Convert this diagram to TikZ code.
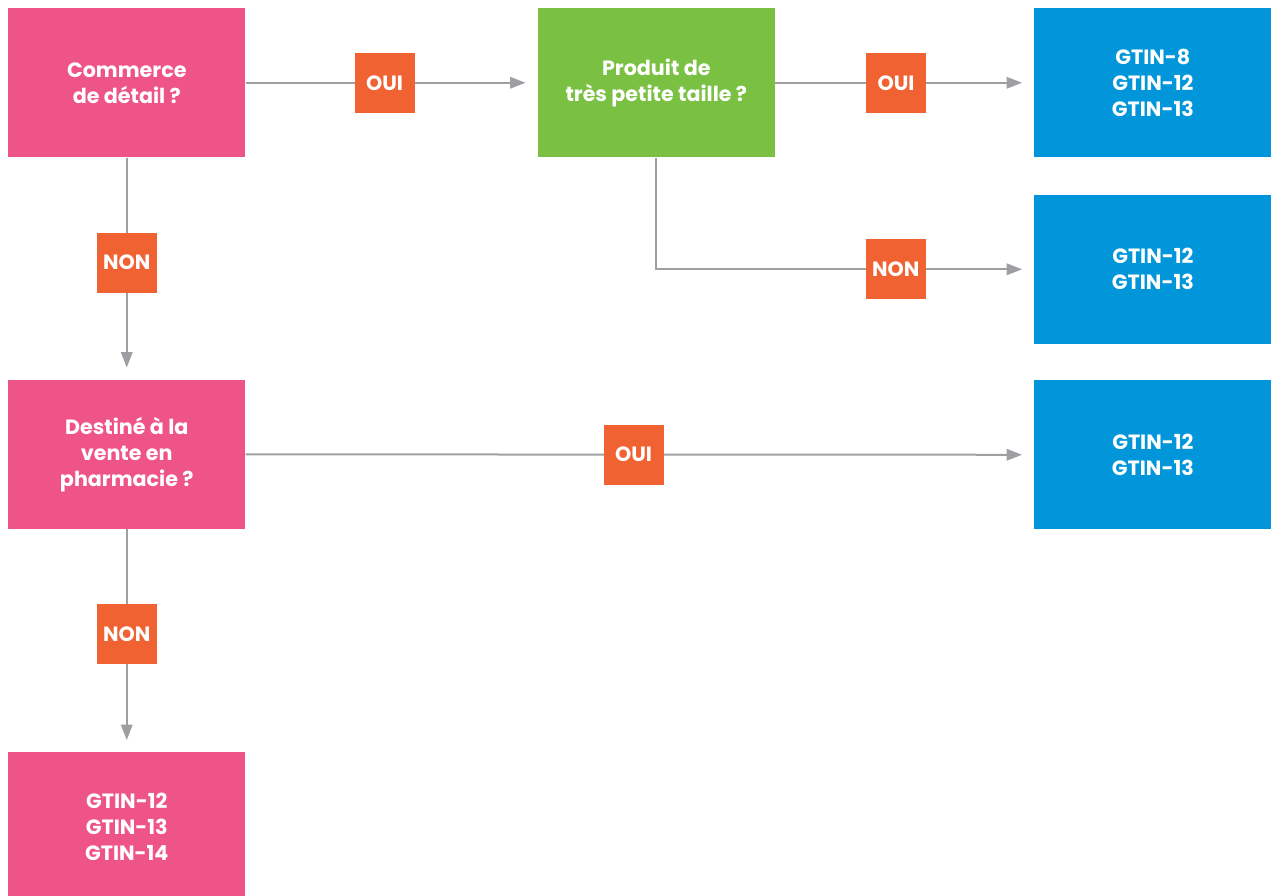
\documentclass[tikz,border=0pt]{standalone}
\usepackage{fontspec}
\setmainfont{Poppins}
\usetikzlibrary{positioning,arrows.meta}
\definecolor{rose}{HTML}{EF5489}
\definecolor{vert}{HTML}{7AC143}
\definecolor{bleu}{HTML}{0096D9}
\definecolor{orangelab}{HTML}{F16232}
\definecolor{gris}{HTML}{9D9FA2}
\begin{document}
\begin{tikzpicture}
                [box/.style={rectangle,minimum width=177.75pt,minimum height=111.75pt,inner sep=0pt,
                  align=center,text=white,font=\bfseries\fontsize{15.5}{19.5}\selectfont},
                pinkbox/.style={box,fill=rose},
                greenbox/.style={box,fill=vert},
                bluebox/.style={box,fill=bleu},
                lab/.style={rectangle,fill=orangelab,text=white,minimum size=45pt,inner sep=0pt,
                  font=\bfseries\fontsize{15.5}{19.5}\selectfont},
                fl/.style={draw=gris,line width=1.5pt,-{Triangle[length=11.5pt,width=8.5pt,fill=gris]},shorten >=9pt},
                node distance=166.5pt]
                \useasboundingbox (0,0) rectangle (953.25pt,-672pt);
                \node[pinkbox,anchor=north west] (detail) at (6pt,-6pt) {Commerce\\de détail ?};
                \node[greenbox,node distance=219pt] (taille)[right=of detail]{Produit de\\très petite taille ?};
                \node[bluebox,node distance=194.25pt] (gtinA)[right=of taille]{GTIN-8\\GTIN-12\\GTIN-13};
                \node[bluebox,node distance=27.75pt] (gtinB)[below=of gtinA]{GTIN-12\\GTIN-13};
                \node[pinkbox] (pharma)[below=of detail]{Destiné à la\\vente en\\pharmacie ?};
                \node[bluebox,node distance=27pt] (gtinC)[below=of gtinB]{GTIN-12\\GTIN-13};
                \node[pinkbox,node distance=167.25pt] (gtinD)[below=of pharma]{GTIN-12\\GTIN-13\\GTIN-14};
                % fleches
                \path(detail) edge[fl] node[lab,pos=0.476]{OUI}(taille)
                              edge[fl] node[lab,pos=0.473]{NON}(pharma)
                     (taille) edge[fl] node[lab,pos=0.467]{OUI}(gtinA)
                     (pharma) edge[fl] node[lab,pos=0.492]{OUI}(gtinC)
                              edge[fl] node[lab,pos=0.471]{NON}(gtinD);
                \draw[fl] (taille) |- node[lab,pos=0.817]{NON} (gtinB);
            \end{tikzpicture}
\end{document}
